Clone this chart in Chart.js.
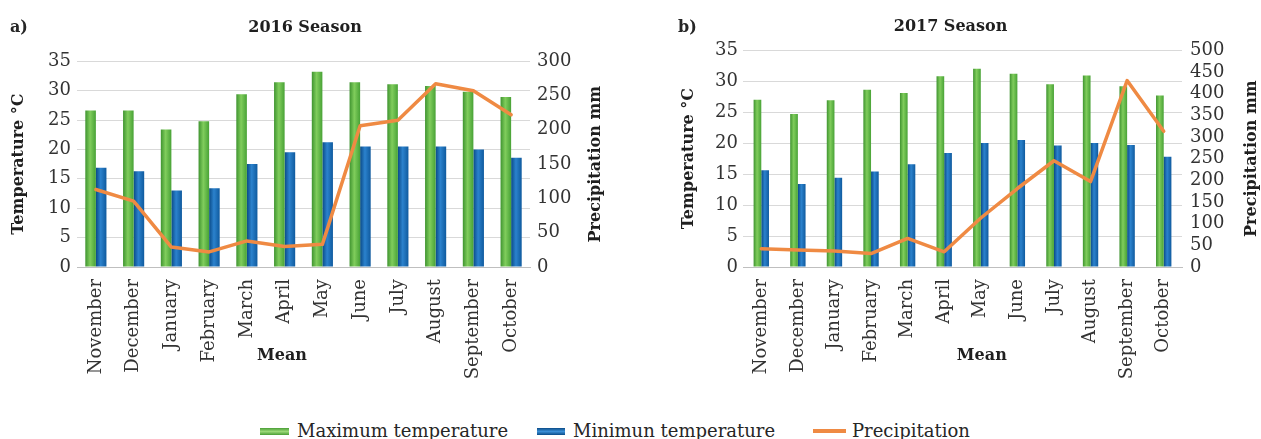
<!DOCTYPE html>
<html>
<head>
<meta charset="utf-8">
<script src="https://cdn.jsdelivr.net/npm/chart.js@4.4.1/dist/chart.umd.min.js"></script>
<style>
  body { margin: 0; background: #fff; width: 1261px; height: 439px; position: relative; overflow: hidden;
         font-family: 'DejaVu Serif', serif; color: #262626; }
  .panel { position: absolute; top: 0; }
  #wrapA { left: 0; }
  #wrapB { left: 640px; }
  .tag { position: absolute; top: 17px; font-weight: bold; font-size: 16px; }
  .item { position: absolute; top: 421px; height: 20px; display: flex; align-items: center; font-size: 18px; line-height: 20px; white-space: nowrap; }
  .sw { display: inline-block; height: 7px; margin-right: 8px; }
</style>
</head>
<body>
<div class="panel" id="wrapA"><canvas id="chartA" width="610" height="395"></canvas></div>
<div class="panel" id="wrapB"><canvas id="chartB" width="621" height="395"></canvas></div>
<div class="tag" style="left:10px">a)</div>
<div class="tag" style="left:678px">b)</div>

<div class="item" style="left:260px"><span class="sw" style="width:29px;background:linear-gradient(#4a9e36,#9ad878 50%,#4a9e36)"></span>Maximum temperature</div>
<div class="item" style="left:537px"><span class="sw" style="width:28px;background:linear-gradient(#0b4c88,#3b8fd6 50%,#0b4c88)"></span>Minimun temperature</div>
<div class="item" style="left:813px"><span class="sw" style="width:33px;height:4px;background:#ef8a43;margin-right:6px"></span>Precipitation</div>

<script>
const months = ['November', 'December', 'January', 'February', 'March', 'April',
                'May', 'June', 'July', 'August', 'September', 'October']

// 2016 season
const max2016 = [26.6, 26.6, 23.4, 24.8, 29.4, 31.4, 33.2, 31.4, 31.1, 30.8, 29.8, 28.9]
const min2016 = [16.9, 16.3, 13.0, 13.4, 17.5, 19.5, 21.2, 20.5, 20.5, 20.5, 20.0, 18.6]
const rain2016 = [113, 96, 29, 22, 38, 30, 33, 206, 214, 267, 257, 222]

// 2017 season
const max2017 = [27.0, 24.7, 26.9, 28.6, 28.1, 30.8, 32.0, 31.2, 29.5, 30.9, 29.2, 27.7]
const min2017 = [15.6, 13.4, 14.4, 15.4, 16.6, 18.4, 20.0, 20.5, 19.6, 20.0, 19.7, 17.8]
const rain2017 = [42, 39, 37, 31, 66, 35, 113, 181, 245, 197, 430, 313]

const FONT = 'DejaVu Serif'
const TICK = '#333333'
const INK = '#1f1f1f'

// shaded bars like the excel look
function barFill(slot, catPct, stops, fallback) {
  return (c) => {
    const x = c.chart.scales.x
    if (!x || c.type !== 'data') return fallback
    const px = x.getPixelForValue(c.dataIndex)
    const size = (x.width / months.length) * catPct
    if (!Number.isFinite(px) || !size) return fallback
    const left = px - size / 2 + slot * size / 2
    const g = c.chart.ctx.createLinearGradient(left, 0, left + size / 2, 0)
    stops.forEach(s => g.addColorStop(s[0], s[1]))
    return g
  }
}

const greenStops = [[0, '#3f9430'], [0.45, '#80cd5c'], [1, '#48a236']]
const blueStops = [[0, '#0a4a87'], [0.45, '#2b82cd'], [1, '#0f5a9e']]

const sideTitles = {
  id: 'sideTitles',
  afterDraw(chart, args, o) {
    const {ctx, chartArea, scales} = chart
    ctx.save()
    ctx.font = 'bold 16px "' + FONT + '"'
    ctx.fillStyle = INK
    ctx.textAlign = 'center'
    ctx.textBaseline = 'middle'
    ctx.fillText('Mean', chartArea.left + chartArea.width * o.meanAt, o.meanY)
    ctx.translate(scales.y1.right - o.rightInset, (chartArea.top + chartArea.bottom) / 2)
    ctx.rotate(-Math.PI / 2)
    ctx.fillText('Precipitation mm', 0, 0)
    ctx.restore()
  }
}

function makeChart(id, title, maxT, minT, rain, lay) {
  const ctx = document.getElementById(id)
  return new Chart(ctx, {
    data: {
      labels: months,
      datasets: [
        {
          type: 'line', label: 'Precipitation', data: rain, yAxisID: 'y1', order: 0,
          borderColor: '#ef8a43', borderWidth: 3.5, pointRadius: 0, tension: 0,
          borderJoinStyle: 'round', borderCapStyle: 'round'
        },
        {
          type: 'bar', label: 'Maximum temperature', data: maxT, yAxisID: 'y', order: 1,
          backgroundColor: barFill(0, lay.cat, greenStops, '#5cb544'),
          categoryPercentage: lay.cat, barPercentage: 1
        },
        {
          type: 'bar', label: 'Minimun temperature', data: minT, yAxisID: 'y', order: 1,
          backgroundColor: barFill(1, lay.cat, blueStops, '#1465ad'),
          categoryPercentage: lay.cat, barPercentage: 1
        }
      ]
    },
    options: {
      responsive: false,
      animation: false,
      layout: {padding: 0},
      plugins: {
        legend: {display: false},
        tooltip: {enabled: false},
        title: {
          display: true, text: title, color: INK,
          font: {family: FONT, size: 16, weight: 'bold'},
          padding: {top: lay.titleTop, bottom: lay.titleBottom}
        },
        sideTitles: {meanAt: lay.meanAt, meanY: 356, rightInset: lay.rightInset}
      },
      scales: {
        x: {
          grid: {display: false},
          border: {color: '#bfbfbf'},
          ticks: {minRotation: 90, maxRotation: 90, autoSkip: false, padding: 4, color: TICK,
                  font: {family: FONT, size: 18}},
          afterFit(s) { s.height = 395 - 267 }
        },
        y: {
          position: 'left', min: 0, max: 35,
          grid: {color: '#d9d9d9', drawTicks: false},
          border: {display: false},
          ticks: {stepSize: 5, autoSkip: false, padding: lay.yPad, color: TICK, font: {family: FONT, size: 18}},
          title: {display: true, text: 'Temperature °C', color: INK,
                  font: {family: FONT, size: 16, weight: 'bold'}, padding: {top: lay.yTitle, bottom: 0}},
          afterFit(s) { s.width = lay.left }
        },
        y1: {
          position: 'right', min: 0, max: lay.rainMax,
          grid: {display: false, drawTicks: false},
          border: {display: false},
          ticks: {stepSize: 50, autoSkip: false, padding: lay.y1Pad, color: TICK, font: {family: FONT, size: 18}},
          afterFit(s) { s.width = lay.right }
        }
      }
    },
    plugins: [sideTitles]
  })
}

makeChart('chartA', '2016 Season', max2016, min2016, rain2016,
  {cat: 0.56, titleTop: 18, titleBottom: 24, meanAt: 0.4525, rightInset: 14,
   left: 77, right: 80, yPad: 6, y1Pad: 7, yTitle: 9, rainMax: 300})

makeChart('chartB', '2017 Season', max2017, min2017, rain2017,
  {cat: 0.42, titleTop: 17, titleBottom: 14, meanAt: 0.544, rightInset: 9,
   left: 103, right: 79, yPad: 5, y1Pad: 8, yTitle: 39, rainMax: 500})
</script>
</body>
</html>
